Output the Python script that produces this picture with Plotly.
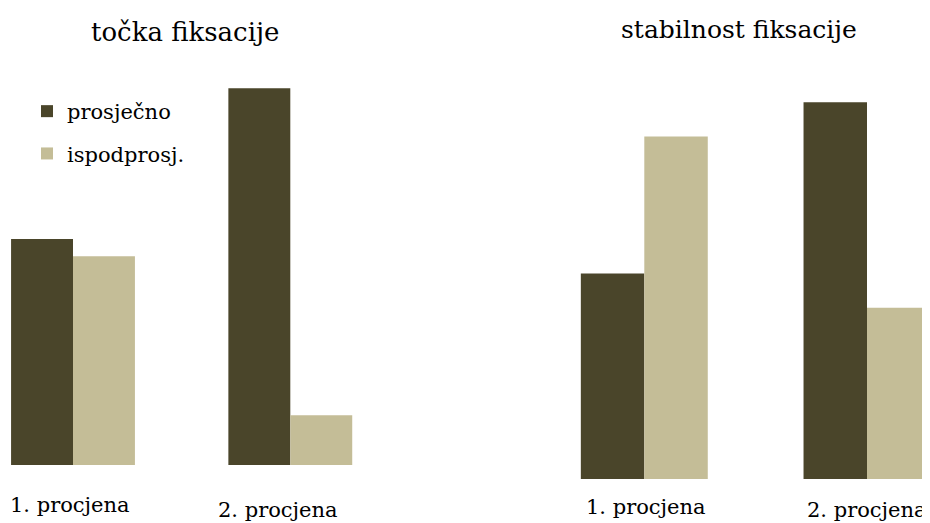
import plotly.graph_objects as go

categories = ["1. procjena", "2. procjena"]
series_names = ["prosječno", "ispodprosj."]
tocka_prosjecno = [13.2, 22.0]
tocka_ispodprosj = [12.2, 2.9]
stabilnost_prosjecno = [12.0, 22.0]
stabilnost_ispodprosj = [20.0, 10.0]
titles = ["točka fiksacije", "stabilnost fiksacije"]

DARK = "#4A452A"
LIGHT = "#C4BD97"
FONT = "DejaVu Serif"

# page body has an 8px margin: figure is drawn offset by (8, 8);
# the figure keeps the full window size so its right/bottom edge is clipped like the reference
OFF = 8
W, H = 930, 523


def fx(px):  # reference x pixel -> paper fraction
    return (px - OFF) / W


def fy(py):  # reference y pixel -> paper fraction
    return 1 - (py - OFF) / H


fig = go.Figure()
fig.add_trace(go.Bar(x=categories, y=tocka_prosjecno, name=series_names[0],
                     marker=dict(color=DARK, line=dict(width=0)),
                     xaxis="x", yaxis="y", legendgroup="a"))
fig.add_trace(go.Bar(x=categories, y=tocka_ispodprosj, name=series_names[1],
                     marker=dict(color=LIGHT, line=dict(width=0)),
                     xaxis="x", yaxis="y", legendgroup="b"))
fig.add_trace(go.Bar(x=categories, y=stabilnost_prosjecno, name=series_names[0],
                     marker=dict(color=DARK, line=dict(width=0)),
                     xaxis="x2", yaxis="y2", legendgroup="a", showlegend=False))
fig.add_trace(go.Bar(x=categories, y=stabilnost_ispodprosj, name=series_names[1],
                     marker=dict(color=LIGHT, line=dict(width=0)),
                     xaxis="x2", yaxis="y2", legendgroup="b", showlegend=False))

px_per_unit = 17.12
ax_common = dict(showgrid=False, zeroline=False, showline=False,
                 showticklabels=False, ticks="")

# left panel geometry (reference pixels)
l_a, l_b = 8.0, 372.0
l_c0, l_step = 73.0, 217.3
l_base, top_px = 465.0, 60.0
# right panel geometry
r_a, r_b = 511.5, 938.0
r_c0, r_step = 644.3, 222.7
r_base = 479.0

fig.update_layout(
    width=W, height=H,
    margin=dict(l=0, r=0, t=0, b=0),
    paper_bgcolor="white", plot_bgcolor="white",
    barmode="group", bargap=0.43, bargroupgap=0,
    font=dict(family=FONT, color="black"),
    xaxis=dict(domain=[fx(l_a), fx(l_b)],
               range=[(l_a - l_c0) / l_step, (l_b - l_c0) / l_step],
               type="category", **ax_common),
    yaxis=dict(domain=[fy(l_base), fy(top_px)],
               range=[0, (l_base - top_px) / px_per_unit], **ax_common),
    xaxis2=dict(domain=[fx(r_a), fx(r_b)],
                range=[(r_a - r_c0) / r_step, (r_b - r_c0) / r_step],
                type="category", anchor="y2", **ax_common),
    yaxis2=dict(domain=[fy(r_base), fy(top_px)],
                range=[0, (r_base - top_px) / px_per_unit], anchor="x2", **ax_common),
    showlegend=True,
    legend=dict(x=fx(27), y=fy(91), xanchor="left", yanchor="top",
                font=dict(family=FONT, size=21, color="black"),
                bgcolor="rgba(0,0,0,0)", borderwidth=0,
                traceorder="grouped", tracegroupgap=12),
)

annotations = [
    dict(text=titles[0], x=fx(185), y=fy(32), xref="paper", yref="paper",
         showarrow=False, font=dict(size=26, family=FONT), xanchor="center", yanchor="middle"),
    dict(text=titles[1], x=fx(739), y=fy(30), xref="paper", yref="paper",
         showarrow=False, font=dict(size=25, family=FONT), xanchor="center", yanchor="middle"),
]
label_pos = [(("x", -3, 505), ("x", -12, 510)), (("x2", 2, 507), ("x2", 0, 510))]
for panel in label_pos:
    for i, (xr, dx, ypx) in enumerate(panel):
        annotations.append(dict(text=categories[i], x=categories[i], xref=xr,
                                y=fy(ypx), yref="paper", xshift=dx,
                                showarrow=False, font=dict(size=21, family=FONT),
                                xanchor="center", yanchor="middle"))
fig.update_layout(annotations=annotations)

fig.write_html("out.html")
